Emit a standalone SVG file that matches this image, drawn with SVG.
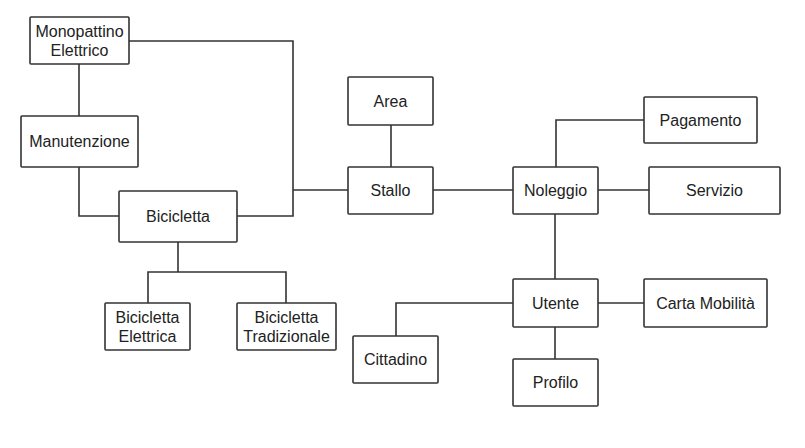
<svg xmlns="http://www.w3.org/2000/svg" width="805" height="448" viewBox="0 0 805 448">
<style>
.n rect{fill:#fff;stroke:#333;stroke-width:1.6}
.n text{font-family:"Liberation Sans",Arial,sans-serif;font-size:16px;fill:#222;text-anchor:middle}
#edges path{fill:none;stroke:#333;stroke-width:1.6}
</style>
<rect width="805" height="448" fill="#fff"/>
<g id="edges">
<path d="M129,41 H293 V216 H237"/>
<path d="M79,64 V116"/>
<path d="M79,167 V216 H119"/>
<path d="M293,190 H348"/>
<path d="M178,242 V272"/>
<path d="M148,303 V272 H286 V303"/>
<path d="M391,125 V167"/>
<path d="M433,190 H513"/>
<path d="M556,167 V120 H644"/>
<path d="M598,190 H649"/>
<path d="M555,214 V279"/>
<path d="M396,336 V303 H513"/>
<path d="M598,303 H644"/>
<path d="M555,327 V359"/>
</g>
<g id="monopattino" class="n"><rect x="30" y="17" width="99" height="47" rx="1"/><text x="79.5" y="37">Monopattino</text><text x="79.5" y="55.5">Elettrico</text></g>
<g id="manutenzione" class="n"><rect x="21" y="116" width="117" height="51" rx="1"/><text x="79.5" y="147">Manutenzione</text></g>
<g id="bicicletta" class="n"><rect x="119" y="191" width="118" height="51" rx="1"/><text x="178" y="222">Bicicletta</text></g>
<g id="bicicletta-elettrica" class="n"><rect x="105" y="303" width="85" height="47" rx="1"/><text x="147.5" y="323">Bicicletta</text><text x="147.5" y="341.5">Elettrica</text></g>
<g id="bicicletta-tradizionale" class="n"><rect x="237" y="303" width="99" height="47" rx="1"/><text x="286.5" y="323">Bicicletta</text><text x="286.5" y="341.5">Tradizionale</text></g>
<g id="area" class="n"><rect x="348" y="77" width="85" height="48" rx="1"/><text x="390.5" y="106.5">Area</text></g>
<g id="stallo" class="n"><rect x="348" y="167" width="85" height="47" rx="1"/><text x="390.5" y="196">Stallo</text></g>
<g id="noleggio" class="n"><rect x="513" y="167" width="85" height="47" rx="1"/><text x="555.5" y="196">Noleggio</text></g>
<g id="pagamento" class="n"><rect x="644" y="97" width="113" height="46" rx="1"/><text x="700.5" y="125.5">Pagamento</text></g>
<g id="servizio" class="n"><rect x="649" y="167" width="131" height="47" rx="1"/><text x="714.5" y="196">Servizio</text></g>
<g id="utente" class="n"><rect x="513" y="279" width="85" height="48" rx="1"/><text x="555.5" y="308.5">Utente</text></g>
<g id="carta-mobilita" class="n"><rect x="644" y="279" width="123" height="48" rx="1"/><text x="705.5" y="308.5">Carta Mobilità</text></g>
<g id="cittadino" class="n"><rect x="353" y="336" width="85" height="47" rx="1"/><text x="395.5" y="365">Cittadino</text></g>
<g id="profilo" class="n"><rect x="513" y="359" width="85" height="47" rx="1"/><text x="555.5" y="388">Profilo</text></g>
</svg>
